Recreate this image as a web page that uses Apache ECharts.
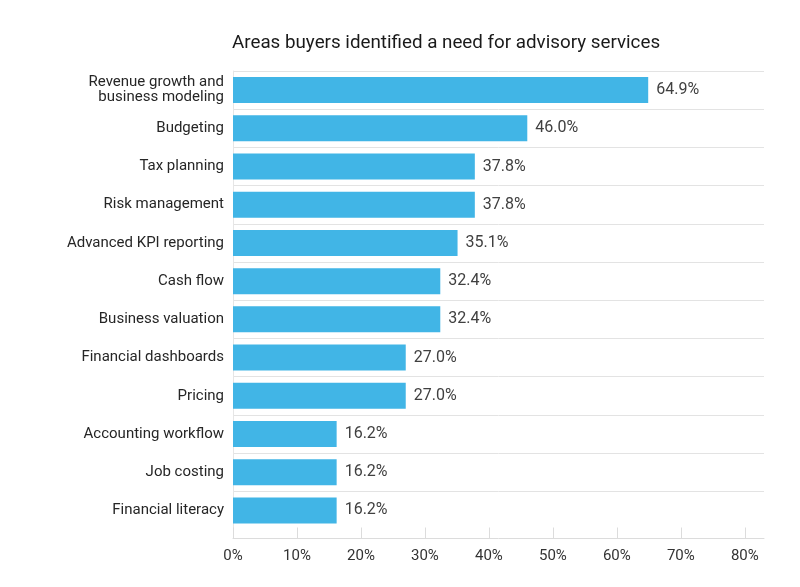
<!DOCTYPE html>
<html>
<head>
<meta charset="utf-8">
<script src="https://cdn.jsdelivr.net/npm/echarts@6/dist/echarts.min.js"></script>
<style>html,body{margin:0;padding:0;background:#fff;}#c{width:800px;height:587px;}</style>
</head>
<body>
<div id="c"></div>
<script>
const titleText = 'Areas buyers identified a need for advisory services';
const categories = [
  'Revenue growth and\nbusiness modeling',
  'Budgeting',
  'Tax planning',
  'Risk management',
  'Advanced KPI reporting',
  'Cash flow',
  'Business valuation',
  'Financial dashboards',
  'Pricing',
  'Accounting workflow',
  'Job costing',
  'Financial literacy'
];
const values = [64.9, 46.0, 37.8, 37.8, 35.1, 32.4, 32.4, 27.0, 27.0, 16.2, 16.2, 16.2];
const tickValues = [0, 10, 20, 30, 40, 50, 60, 70, 80];

const chart = echarts.init(document.getElementById('c'), null, {renderer: 'canvas'});
const font = 'Roboto, "Noto Sans", sans-serif';
const splitColors = categories.map(() => '#e3e3e3').concat(['rgba(0,0,0,0)']);
chart.setOption({
  animation: false,
  backgroundColor: '#ffffff',
  title: {
    text: titleText,
    left: 227,
    top: 29,
    textStyle: {fontFamily: font, fontSize: 18.8, fontWeight: 'normal', color: '#1a1a1a'}
  },
  grid: {left: 233, right: 36, top: 71, bottom: 57.5, outerBoundsMode: 'none', containLabel: false},
  xAxis: {
    type: 'value',
    min: 0,
    max: 83,
    offset: 9,
    axisLine: {show: true, lineStyle: {color: '#dcdcdc', width: 1}},
    axisTick: {show: true, inside: true, length: 11, customValues: tickValues, lineStyle: {color: '#dcdcdc'}},
    axisLabel: {
      customValues: tickValues,
      formatter: '{value}%',
      fontFamily: font, fontSize: 15, color: '#333', margin: 10
    },
    splitLine: {show: false}
  },
  yAxis: {
    type: 'category',
    inverse: true,
    data: categories,
    axisLine: {show: true, lineStyle: {color: '#e6e6e6'}},
    axisTick: {show: false},
    axisLabel: {fontFamily: font, fontSize: 15, color: '#262626', margin: 9, lineHeight: 15},
    splitLine: {show: true, showMaxLine: false, lineStyle: {color: splitColors, width: 1}}
  },
  series: [{
    type: 'bar',
    data: values,
    barCategoryGap: '32%',
    itemStyle: {color: '#41b5e6'},
    label: {
      show: true,
      position: 'right',
      distance: 8,
      formatter: p => p.value.toFixed(1) + '%',
      fontFamily: font, fontSize: 16, color: '#404040'
    }
  }]
});
</script>
</body>
</html>
